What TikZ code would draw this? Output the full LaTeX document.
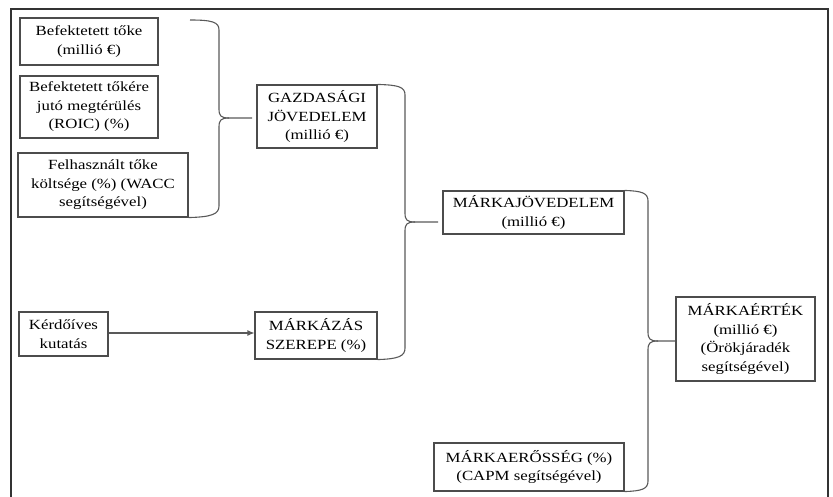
\documentclass[tikz,border=0pt]{standalone}
\usepackage{fontspec}
\setmainfont{Liberation Serif}[FakeStretch=1.2]
\usetikzlibrary{arrows.meta}
\begin{document}
\begin{tikzpicture}[x=1pt,y=-1pt,
  box/.style={draw=black!70, line width=1.1pt, align=center, inner sep=0pt, text=black,
    font=\fontsize{14}{18.5}\selectfont},
  brace/.style={draw=black!65, line width=1.1pt},
  frameline/.style={draw=black!80, line width=1.8pt}]
\useasboundingbox (0,0) rectangle (833,497);
% frame
\coordinate (f1) at (11,497);
\coordinate (f2) at (11,9);
\coordinate (f3) at (828,9);
\coordinate (f4) at (828,497);
\draw[frameline] (f1) -- (f2) -- (f3) -- (f4);
% nodes
\node[box, minimum width=138, minimum height=47] (b1) at (89,41.5) {Befektetett tőke\\(millió €)};
\node[box, minimum width=138, minimum height=62] (b2) at (89,107) {Befektetett tőkére\\jutó megtérülés\\(ROIC) (\%)};
\node[box, minimum width=170, minimum height=64] (b3) at (103,185) {Felhasznált tőke\\költsége (\%) (WACC\\segítségével)};
\node[box, minimum width=120, minimum height=63] (gaz) at (317,116.5) {GAZDASÁGI\\JÖVEDELEM\\(millió €)};
\node[box, minimum width=89, minimum height=44] (kerd) at (63.5,334) {Kérdőíves\\kutatás};
\node[box, minimum width=122, minimum height=47] (mksz) at (316,335.5) {MÁRKÁZÁS\\SZEREPE (\%)};
\node[box, minimum width=181, minimum height=43] (mj) at (533.5,212.5) {MÁRKAJÖVEDELEM\\(millió €)};
\node[box, minimum width=139, minimum height=84] (me) at (745.5,339) {MÁRKAÉRTÉK\\(millió €)\\(Örökjáradék\\segítségével)};
\node[box, minimum width=190, minimum height=48] (mer) at (529,467) {MÁRKAERŐSSÉG (\%)\\(CAPM segítségével)};
% arrow
\draw[brace, -{Latex[length=7pt,width=6pt]}] (kerd.east |- 0,333) -- (mksz.west |- 0,333);
% brace 1
\coordinate (t1) at (190,20);
\coordinate (tip1) at (252,118);
\draw[brace] (t1) .. controls (212,20) and (219,22) .. (219,30) -- (219,109)
  .. controls (219,116) and (221,118) .. (229,118) -- (tip1);
\draw[brace] (229,118) .. controls (221,118) and (219,120) .. (219,127) -- (219,206)
  .. controls (219,214) and (212,217) .. (b3.south east);
% brace 2
\coordinate (tip2) at (438,222);
\draw[brace] (gaz.north east) .. controls (399,85) and (405,87) .. (405,95) -- (405,213)
  .. controls (405,220) and (407,222) .. (415,222) -- (tip2);
\draw[brace] (415,222) .. controls (407,222) and (405,224) .. (405,231) -- (405,348)
  .. controls (405,356) and (399,359) .. (mksz.south east);
% brace 3
\draw[brace] (mj.north east) .. controls (642,191) and (648,193) .. (648,201) -- (648,332)
  .. controls (648,339) and (650,341) .. (658,341) -- (me.west |- 0,341);
\draw[brace] (658,341) .. controls (650,341) and (648,343) .. (648,350) -- (648,481)
  .. controls (648,489) and (642,491) .. (mer.south east);
\end{tikzpicture}
\end{document}
